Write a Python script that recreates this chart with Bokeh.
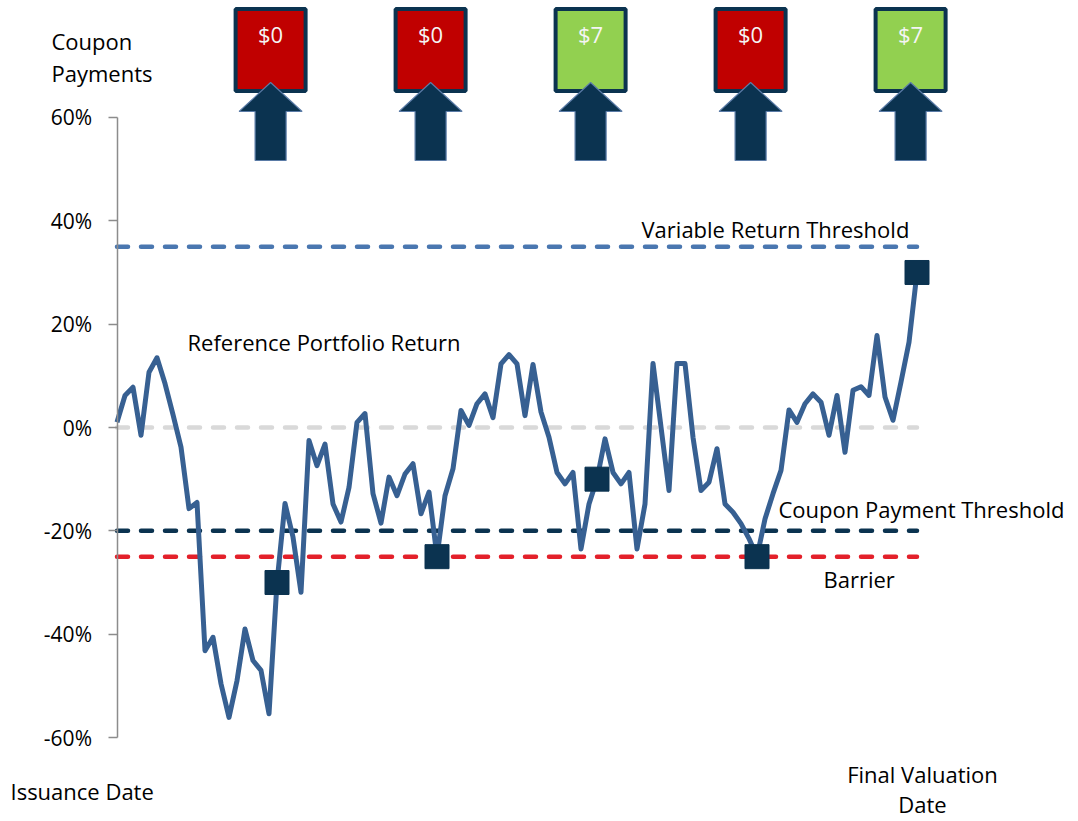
from bokeh.plotting import figure
from bokeh.models import Range1d, LinearAxis, FixedTicker, PrintfTickFormatter, Label, ColumnDataSource
from bokeh.embed import file_html
from bokeh.resources import INLINE
from bokeh.core.properties import value

# ---------------- data ----------------
periods = list(range(101))
portfolio_return = [
    1.0, 6.2, 7.8, -1.5, 10.7, 13.5, 8.5, 2.5, -3.8, -15.7,
    -14.5, -43.2, -40.6, -49.6, -56.1, -49.0, -39.0, -45.1, -47.0, -55.4,
    -30.0, -14.7, -21.2, -31.9, -2.5, -7.4, -3.2, -14.8, -18.3, -11.6,
    1.0, 2.7, -12.8, -18.5, -9.6, -13.2, -9.0, -7.0, -16.7, -12.5,
    -25.0, -13.2, -8.0, 3.3, 0.4, 4.6, 6.5, 1.9, 12.3, 14.1,
    12.3, 2.3, 12.2, 3.0, -1.9, -8.7, -10.9, -8.7, -23.5, -14.8,
    -10.0, -2.2, -8.7, -10.9, -8.7, -23.5, -14.8, 12.4, 0.1, -12.2,
    12.4, 12.4, -1.9, -12.2, -10.6, -4.1, -14.8, -16.4, -18.6, -21.5,
    -25.0, -17.7, -12.8, -8.3, 3.4, 1.0, 4.6, 6.5, 4.9, -1.5,
    6.2, -4.8, 7.2, 7.9, 6.2, 17.8, 5.9, 1.4, 8.8, 16.5,
    30.0,
]
obs_index = [20, 40, 60, 80, 100]
obs_return = [-30, -25, -10, -25, 30]
coupon_labels = ["$0", "$0", "$7", "$0", "$7"]
coupon_paid = [False, False, True, False, True]
variable_return_threshold = 35
coupon_payment_threshold = -20
barrier = -25
zero_line = 0
y_ticks = [-60, -40, -20, 0, 20, 40, 60]

# ---------------- layout ----------------
W, H = 1074, 818
X0_PX = 116.5       # window x of period 0
Y0_PX = 427.0       # window y of 0%
PX_X = 8.0          # px per period
PX_Y = 5.1667       # px per percent
x_start = -X0_PX / PX_X
x_end = x_start + W / PX_X
y_top = Y0_PX / PX_Y
y_bottom = y_top - H / PX_Y

def dx(win_x):
    return (win_x - X0_PX) / PX_X

def dy(win_y):
    return (Y0_PX - win_y) / PX_Y

FONT = "Open Sans"
NAVY = "#0B3350"
LINE_BLUE = "#376092"

p = figure(width=W, height=H, x_range=Range1d(x_start, x_end), y_range=Range1d(y_bottom, y_top),
           output_backend="svg", toolbar_location=None,
           min_border_left=0, min_border_right=0, min_border_top=0, min_border_bottom=0,
           x_axis_type=None, y_axis_type=None)
p.outline_line_color = None
p.background_fill_color = "white"
p.border_fill_color = "white"

yaxis = LinearAxis(bounds=(-60, 60), ticker=FixedTicker(ticks=y_ticks),
                   formatter=PrintfTickFormatter(format="%d%%"), fixed_location=0)
yaxis.axis_line_color = "#8C8C8C"
yaxis.axis_line_width = 1.5
yaxis.major_tick_line_color = "#8C8C8C"
yaxis.major_tick_line_width = 1.5
yaxis.major_tick_out = 9
yaxis.major_tick_in = 0
yaxis.minor_tick_line_color = None
yaxis.major_label_text_font = FONT
yaxis.major_label_text_font_size = "21px"
yaxis.major_label_text_color = "#000000"
yaxis.major_label_standoff = 16
p.add_layout(yaxis, "left")

x0, x1 = periods[0], periods[-1]
# threshold lines
p.line([x0, x1], [zero_line, zero_line], line_color="#D9D9D9", line_width=4.5, line_dash="11 13", line_cap="round")
p.line([x0, x1], [variable_return_threshold] * 2, line_color="#4A77B0", line_width=4.5, line_dash="11 13", line_cap="round")
p.line([x0, x1], [coupon_payment_threshold] * 2, line_color=NAVY, line_width=4.5, line_dash="11 13", line_cap="round")
p.line([x0, x1], [barrier] * 2, line_color="#E3202A", line_width=4.5, line_dash="11 13", line_cap="round")

# portfolio return
p.line(periods, portfolio_return, line_color=LINE_BLUE, line_width=5, line_join="round")
p.scatter(obs_index, obs_return, marker="square", size=24, fill_color=NAVY, line_color=NAVY)

# coupon boxes and arrows
SHIFT = -0.8
box_x = [i + SHIFT for i in obs_index]
box_fill = ["#92D050" if paid else "#C00000" for paid in coupon_paid]
src = ColumnDataSource(dict(x=box_x, y=[dy(49.5)] * len(box_x), fill=box_fill, label=coupon_labels,
                            ty=[dy(33)] * len(box_x)))
p.rect("x", "y", width=70, height=82, width_units="screen", height_units="screen",
       fill_color="fill", line_color=NAVY, line_width=4, source=src)
p.text("x", "ty", text="label", text_align="center", text_baseline="middle",
       text_font=value(FONT), text_font_size="22px", text_color="#F5F5F5", source=src)

arrow_px = [(0, 82), (31.5, 111), (15.5, 111), (15.5, 160), (-15.5, 160), (-15.5, 111), (-31.5, 111)]
xs, ys = [], []
for cx in box_x:
    xs.append([cx + ax / PX_X for ax, ay in arrow_px])
    ys.append([dy(ay) for ax, ay in arrow_px])
p.patches(xs, ys, fill_color=NAVY, line_color="#5A7BA6", line_width=1.2)

# texts
def lab(text, wx, wy, align="left", size="22px"):
    p.add_layout(Label(x=dx(wx), y=dy(wy), text=text, text_align=align, text_baseline="middle",
                       text_font=FONT, text_font_size=size, text_color="#000000"))

lab("Coupon", 51, 40)
lab("Payments", 51, 72)
lab("Reference Portfolio Return", 187, 341)
lab("Variable Return Threshold", 641, 228)
lab("Coupon Payment Threshold", 778, 508)
lab("Barrier", 823, 578)
lab("Issuance Date", 10, 790)
lab("Final Valuation", 922, 773, align="center")
lab("Date", 922, 803, align="center")

open("out.html", "w").write(file_html(p, INLINE))
